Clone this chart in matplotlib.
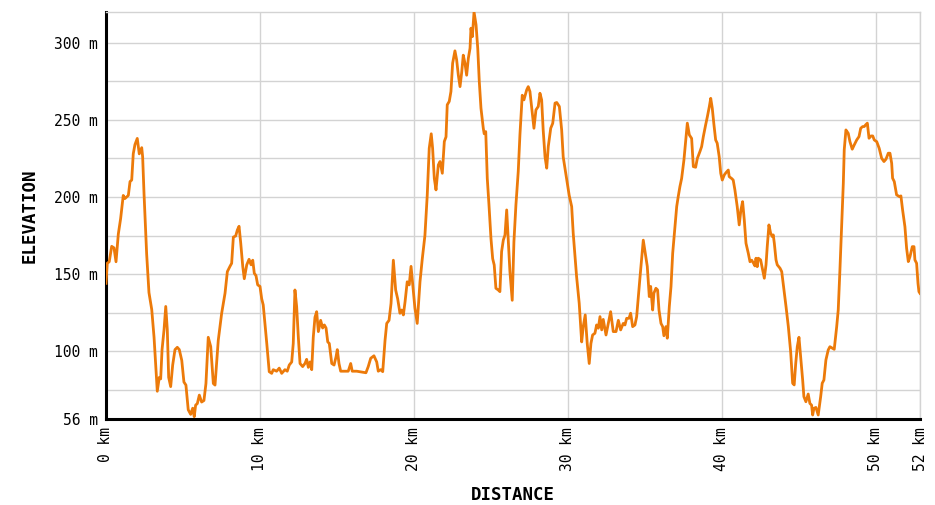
import matplotlib
matplotlib.use("Agg")
import matplotlib.pyplot as plt

# elevation profile (distance in km, elevation in m)
dist_km = [
    0.00, 0.08, 0.21, 0.37, 0.52, 0.65, 0.80, 0.95, 1.12, 1.23, 1.45, 1.56, 1.67, 1.77, 1.88,
    2.03, 2.16, 2.32, 2.38, 2.47, 2.64, 2.79, 2.97, 3.12, 3.25, 3.33, 3.46, 3.55, 3.64, 3.77,
    3.88, 3.98, 4.07, 4.20, 4.33, 4.48, 4.63, 4.76, 4.92, 5.06, 5.19, 5.34, 5.50, 5.63, 5.73,
    5.82, 5.93, 6.06, 6.21, 6.36, 6.49, 6.64, 6.80, 6.97, 7.08, 7.29, 7.51, 7.73, 7.88, 8.05,
    8.16, 8.27, 8.42, 8.53, 8.64, 8.75, 8.88, 8.98, 9.14, 9.29, 9.42, 9.53, 9.63, 9.74, 9.85,
    10.00, 10.11, 10.21, 10.44, 10.60, 10.76, 10.86, 11.08, 11.25, 11.41, 11.62, 11.77, 11.90,
    12.06, 12.16, 12.27, 12.38, 12.49, 12.60, 12.77, 12.92, 13.03, 13.14, 13.25, 13.36, 13.46,
    13.57, 13.68, 13.79, 13.94, 14.07, 14.18, 14.29, 14.40, 14.50, 14.66, 14.81, 14.94, 15.02,
    15.13, 15.24, 15.52, 15.73, 15.89, 15.99, 16.28, 16.60, 16.88, 17.03, 17.19, 17.40, 17.58,
    17.68, 17.84, 17.97, 18.12, 18.23, 18.38, 18.51, 18.66, 18.81, 18.94, 19.09, 19.20, 19.31,
    19.42, 19.56, 19.69, 19.81, 19.92, 20.06, 20.21, 20.39, 20.54, 20.71, 20.86, 20.99, 21.12,
    21.21, 21.32, 21.43, 21.58, 21.69, 21.84, 21.97, 22.08, 22.16, 22.29, 22.40, 22.51, 22.66,
    22.77, 22.88, 22.99, 23.10, 23.20, 23.31, 23.42, 23.53, 23.64, 23.70, 23.79, 23.90, 24.03,
    24.14, 24.24, 24.35, 24.50, 24.56, 24.66, 24.76, 24.87, 25.00, 25.11, 25.21, 25.32, 25.47,
    25.58, 25.69, 25.80, 25.91, 26.02, 26.12, 26.23, 26.38, 26.49, 26.62, 26.77, 26.88, 27.03,
    27.14, 27.32, 27.42, 27.53, 27.79, 27.92, 28.07, 28.18, 28.29, 28.39, 28.51, 28.62, 28.72,
    28.88, 29.01, 29.16, 29.27, 29.44, 29.59, 29.69, 29.92, 30.08, 30.24, 30.34, 30.56, 30.73,
    30.89, 30.99, 31.12, 31.25, 31.38, 31.49, 31.60, 31.75, 31.86, 31.97, 32.08, 32.19, 32.29,
    32.47, 32.62, 32.77, 32.94, 33.12, 33.27, 33.42, 33.59, 33.70, 33.81, 33.96, 34.07, 34.20,
    34.35, 34.46, 34.68, 34.89, 35.05, 35.15, 35.28, 35.37, 35.50, 35.58, 35.71, 35.82, 35.91,
    36.04, 36.15, 36.23, 36.36, 36.45, 36.58, 36.69, 36.80, 36.95, 37.06, 37.16, 37.27, 37.38,
    37.53, 37.66, 37.75, 37.88, 38.03, 38.14, 38.29, 38.40, 38.57, 38.68, 38.79, 38.94, 39.05,
    39.18, 39.27, 39.37, 39.48, 39.59, 39.69, 39.82, 39.92, 40.02, 40.15, 40.26, 40.41, 40.47,
    40.63, 40.73, 40.84, 40.99, 41.12, 41.23, 41.34, 41.45, 41.56, 41.71, 41.82, 41.93, 42.03,
    42.14, 42.21, 42.29, 42.36, 42.51, 42.64, 42.75, 42.86, 42.94, 43.05, 43.16, 43.27, 43.33,
    43.40, 43.51, 43.59, 43.77, 43.88, 44.03, 44.16, 44.31, 44.46, 44.59, 44.69, 44.79, 44.89,
    45.00, 45.11, 45.24, 45.32, 45.45, 45.60, 45.71, 45.82, 45.89, 45.97, 46.10, 46.25, 46.41,
    46.51, 46.62, 46.75, 46.90, 47.01, 47.19, 47.29, 47.45, 47.55, 47.66, 47.77, 47.88, 47.94,
    48.05, 48.20, 48.31, 48.46, 48.59, 48.75, 48.90, 49.01, 49.14, 49.24, 49.33, 49.44, 49.55,
    49.68, 49.79, 49.89, 50.05, 50.21, 50.37, 50.52, 50.65, 50.80, 50.91, 51.02, 51.08, 51.19,
    51.34, 51.51, 51.62, 51.73, 51.88, 51.99, 52.10, 52.21, 52.36, 52.47, 52.53, 52.64, 52.73,
    52.79, 52.86,
]

elev_m = [
    144, 157, 158, 168, 167, 158, 176, 186, 201, 199, 201, 210, 211, 228, 234,
    238, 228, 232, 226, 202, 163, 138, 127, 109, 88, 74, 83, 82, 101, 114,
    129, 114, 83, 77, 91, 101, 102.5, 101, 94, 80, 78, 62, 59, 63, 57.5,
    65, 66, 71.5, 67, 68, 79, 109, 103, 79, 78, 107, 124.5, 137.6, 151.6, 155,
    157, 174, 174.7, 178.6, 181, 170, 155, 147, 156, 159.6, 156, 159, 150.5, 149, 143,
    142, 134, 130, 105, 86.7, 85.6, 88, 87, 89, 85.6, 88, 87, 91,
    93, 105, 139.7, 129, 109, 92, 90, 92, 94.7, 89.5, 93, 88, 109,
    122, 125.6, 112.7, 120, 115, 117, 115, 106, 105, 92, 91, 96.4, 101,
    92, 87, 87, 87, 92, 87, 87, 86.5, 86, 90, 95.4, 97, 93,
    87, 88, 86.7, 107, 118, 120, 131, 159, 139.7, 134, 124.6, 126.7, 123.5,
    132, 145, 143, 155, 143, 128, 118, 145, 160, 175, 201, 231.6, 241,
    231.6, 212, 204.6, 220.8, 223, 215.4, 236, 239, 259.8, 262, 268.4, 286.8, 294.8,
    289, 279, 271.6, 281, 292, 286.8, 279, 290, 296.5, 309.5, 304, 320, 311.7,
    296.5, 275, 257.6, 244.6, 241, 242.4, 212, 194.9, 173, 160, 155.9, 140.8, 139.7,
    138.6, 164.6, 172, 175.4, 191.6, 173, 151.6, 133, 171, 194.9, 216.5, 240.3, 266,
    263, 269.5, 271.6, 268.4, 244.6, 256.5, 258.7, 267.3, 263, 243.5, 226, 218.7, 232.7,
    244.6, 247.8, 260.9, 261.3, 258.7, 243.5, 226, 211, 201, 193.8, 176.5, 148.3, 131,
    106, 115.9, 123.5, 105, 92, 105, 110.5, 111.6, 117, 114.9, 122.4, 113.8, 120.6,
    110.5, 118, 125.6, 112.7, 112.7, 120, 113.8, 118, 117, 121.3, 121.3, 124.6, 115.9,
    117, 122.4, 148.3, 172, 161.3, 155, 135.4, 142, 126.7, 137.6, 140.8, 139.7, 126.7,
    118, 115.9, 110, 115.9, 108.4, 128.9, 141.9, 163.5, 180.8, 193.8, 200.3, 206.8, 212,
    224, 238, 247.9, 240.3, 238, 219.7, 219.3, 225, 229.5, 232.7, 239.2, 246.8, 252,
    258.7, 264, 257.6, 246.8, 237, 234.9, 226.2, 215.4, 211, 214.3, 215.8, 217.5, 213.2,
    212, 211, 204.6, 193.8, 181.9, 191.6, 197, 185, 170, 163.5, 158, 159, 157.4,
    155.3, 160.3, 154.8, 160.3, 159.2, 152.7, 147.3, 156, 167.8, 181.9, 176.5, 174.3, 175.4,
    170, 159.2, 156, 153.8, 151.6, 139.7, 128.9, 115.9, 99.7, 79.2, 78.1, 92.1, 102.9,
    109, 96.4, 81.3, 70.5, 67.2, 72.2, 66.1, 65, 58.6, 62.9, 63.5, 58.6, 70.5,
    79.2, 81.3, 94.3, 100.8, 102.9, 101.8, 101.2, 115.9, 126.7, 152.7, 180.8, 208.9, 230.6,
    243.5, 241.3, 235.9, 231, 233.8, 237, 239.2, 244.6, 245.7, 245.7, 246.8, 247.9, 238.1,
    239.6, 239.6, 237, 235.9, 231.6, 225.1, 223, 224.5, 228.4, 228.4, 221.9, 212.2, 210,
    201.4, 200.3, 200.7, 191.6, 180.8, 166.8, 158.1, 161.3, 167.8, 167.8, 159.2, 157, 144,
    138.6, 137.5,
]

y_labeled = [56, 100, 150, 200, 250, 300]
y_minor = [75, 125, 175, 225, 275]
x_ticks = [0, 10, 20, 30, 40, 50]
y_min, y_max = 56, 320

line_color = '#ec7a0a'
grid_color = '#d3d3d3'
mono = 'DejaVu Sans Mono'

fig = plt.figure(figsize=(9.35, 5.05), dpi=100)
ax = fig.add_axes([106 / 935, 1 - 419 / 505, (920 - 106) / 935, (419 - 12) / 505])

ax.plot(dist_km, elev_m, color=line_color, linewidth=2.0, solid_joinstyle='round', zorder=3)

total_km = dist_km[-1]
ax.set_xlim(0, total_km)
ax.set_ylim(y_min, y_max)

# ticks and grid
ax.set_xticks(x_ticks + [total_km])
ax.set_xticklabels([f'{t} km' for t in x_ticks] + [f'{int(total_km)} km'],
                   rotation=90, fontfamily=mono, fontsize=10.5)
ax.set_yticks(y_labeled)
ax.set_yticklabels([f'{v} m' for v in y_labeled], fontfamily=mono, fontsize=10.5)
ax.set_yticks(y_minor, minor=True)
ax.tick_params(axis='both', which='both', length=0)
ax.tick_params(axis='x', pad=6)
ax.tick_params(axis='y', pad=6)
ax.grid(True, which='both', color=grid_color, linewidth=1.0, zorder=0)
ax.set_axisbelow(True)

for side in ['top', 'right']:
    ax.spines[side].set_color(grid_color)
    ax.spines[side].set_linewidth(1.0)
for side in ['left', 'bottom']:
    ax.spines[side].set_color('black')
    ax.spines[side].set_linewidth(2.2)

ax.set_xlabel('DISTANCE', fontfamily=mono, fontweight='bold', fontsize=12.5, labelpad=11)
ax.set_ylabel('ELEVATION', fontfamily=mono, fontweight='bold', fontsize=12.5, labelpad=11)

fig.savefig('out.png', dpi=100)
